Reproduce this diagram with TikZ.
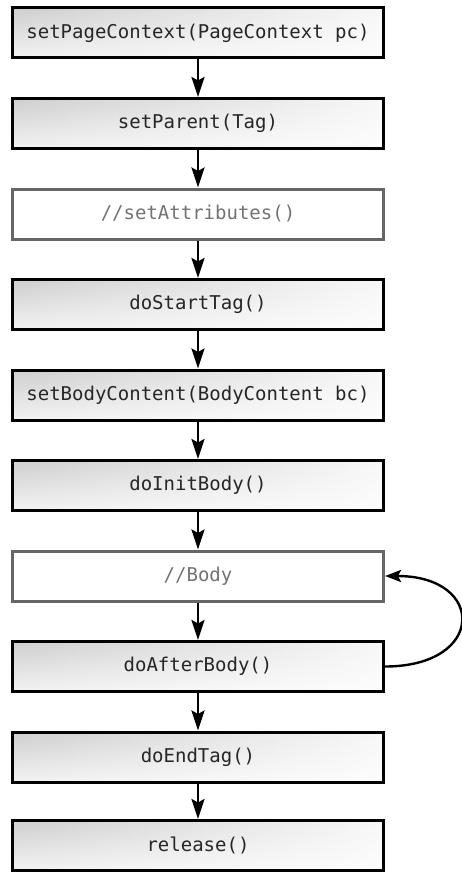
\documentclass[tikz,border=0pt]{standalone}
\usepackage{fontspec}
\setmonofont{DejaVu Sans Mono}
\usetikzlibrary{arrows.meta,fadings}
\tikzset{
  boxbase/.style={minimum width=371pt, minimum height=50pt, inner sep=0pt,
    font=\ttfamily\fontsize{19}{21}\selectfont},
  stepbox/.style={boxbase, draw=black, line width=3pt, text=black!85,
    path picture={
      \fill[left color=gray!38, right color=gray!6]
        (path picture bounding box.south west) rectangle (path picture bounding box.north east);
      \fill[white, opacity=0.75, path fading=north]
        (path picture bounding box.south west) rectangle (path picture bounding box.north east);
    }},
  plainbox/.style={boxbase, draw=black!60, line width=3pt, fill=white, text=black!55},
  flow/.style={line width=2.8pt, -{Stealth[length=20pt,width=13pt,inset=3.5pt]}},
  loopflow/.style={line width=2.4pt, -{Stealth[length=16pt,width=12pt,inset=3pt]}}
}
\begin{document}
\begin{tikzpicture}[x=1pt,y=-1pt]
\useasboundingbox (0,0) rectangle (462,872);
\node[stepbox] (n1) at (198,33) {setPageContext(PageContext pc)};
\node[stepbox] (n2) at (198,123.5) {setParent(Tag)};
\node[plainbox] (n3) at (198,214) {//setAttributes()};
\node[stepbox] (n4) at (198,304.5) {doStartTag()};
\node[stepbox] (n5) at (198,395) {setBodyContent(BodyContent bc)};
\node[stepbox] (n6) at (198,485.5) {doInitBody()};
\node[plainbox] (n7) at (198,576) {//Body};
\node[stepbox] (n8) at (198,666.5) {doAfterBody()};
\node[stepbox] (n9) at (198,757) {doEndTag()};
\node[stepbox] (n10) at (198,845.5) {release()};
\foreach \a/\b in {n1/n2,n2/n3,n3/n4,n4/n5,n5/n6,n6/n7,n7/n8,n8/n9,n9/n10}
  \draw[flow] (\a.south) -- (\b.north);
\draw[loopflow] (n8.east) .. controls +(101,0) and +(101,0) .. (n7.east);
\end{tikzpicture}
\end{document}
